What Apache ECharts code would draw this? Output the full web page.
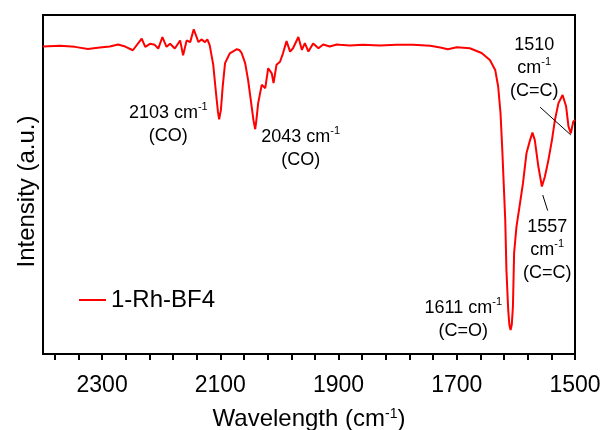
<!DOCTYPE html>
<html>
<head>
<meta charset="utf-8">
<script src="https://cdn.jsdelivr.net/npm/echarts@6/dist/echarts.min.js"></script>
<style>
html,body{margin:0;padding:0;background:#fff;}
#chart{width:606px;height:430px;}
</style>
</head>
<body>
<div id="chart"></div>
<script>
// Wavenumber (cm-1) and intensity (a.u.)
const wavenumber = [2400, 2371, 2346, 2324, 2304, 2287, 2273, 2261, 2248, 2233, 2227, 2219, 2211, 2205, 2198, 2191, 2185, 2177, 2168, 2163, 2157, 2151, 2145, 2137, 2132, 2126, 2122, 2118, 2112, 2107, 2104, 2102, 2099, 2096, 2092, 2087, 2084, 2079, 2072, 2068, 2064, 2058, 2053, 2047, 2044, 2041, 2039, 2036, 2030, 2024, 2019, 2013, 2010, 2005, 1999, 1994, 1988, 1982, 1977, 1968, 1962, 1957, 1951, 1943, 1934, 1926, 1915, 1903, 1898, 1881, 1859, 1830, 1802, 1774, 1745, 1728, 1715, 1700, 1678, 1658, 1644, 1635, 1630, 1626, 1623, 1618, 1616, 1613, 1611, 1609, 1607, 1605, 1603, 1599, 1593, 1588, 1582, 1576, 1572, 1568, 1562, 1556, 1551, 1545, 1539, 1534, 1528, 1521, 1515, 1511, 1507, 1503, 1500];
const intensity = [90.7, 90.9, 90.6, 90.0, 90.4, 90.7, 91.3, 90.7, 89.6, 93.0, 90.6, 91.5, 91.2, 90.1, 93.5, 90.6, 91.5, 90.1, 92.5, 88.1, 92.5, 92.0, 95.8, 92.0, 92.8, 92.0, 92.8, 91.1, 85.3, 76.4, 71.4, 69.2, 72.0, 78.9, 85.8, 87.6, 88.7, 89.2, 89.9, 89.7, 88.8, 85.8, 80.8, 73.0, 69.0, 66.3, 69.0, 74.0, 79.4, 78.4, 84.3, 82.8, 79.9, 85.3, 86.2, 88.7, 92.3, 89.2, 90.2, 93.5, 89.7, 91.7, 89.2, 91.6, 90.2, 91.3, 90.7, 91.3, 91.2, 91.0, 91.2, 91.0, 91.2, 91.2, 90.9, 90.4, 89.9, 90.5, 90.2, 88.8, 86.7, 83.8, 78.9, 71.1, 60.2, 39.5, 24.8, 13.0, 8.6, 7.1, 8.6, 14.0, 29.8, 37.6, 44.5, 50.4, 59.3, 63.1, 65.3, 63.1, 55.3, 49.4, 52.3, 57.2, 63.1, 69.0, 74.0, 76.4, 73.0, 67.1, 65.1, 68.5, 69.0];

const seriesName = '1-Rh-BF4';
const xTickLabels = [1500, 1700, 1900, 2100, 2300];
const xTicks = [1500, 1540, 1580, 1620, 1660, 1700, 1740, 1780, 1820, 1860, 1900, 1940, 1980, 2020, 2060, 2100, 2140, 2180, 2220, 2260, 2300, 2340, 2380];

// Peak annotations: text anchor in data coordinates
const annotationText = ['2103 cm{sup|-1}\n(CO)', '2043 cm{sup|-1}\n(CO)', '1510\ncm{sup|-1}\n(C=C)', '1557\ncm{sup|-1}\n(C=C)', '1611 cm{sup|-1}\n(C=O)'];
const annotationX = [2188, 1964, 1569, 1547, 1689];
const annotationY = [67.6, 60.6, 84.4, 30.6, 10.3];
// Leader lines [x1, y1, x2, y2] in data coordinates
const leaderLines = [[1559, 72.8, 1507, 64.6], [1554.6, 46.9, 1546.2, 42.3]];

const FONT = '"Liberation Sans", Arial, sans-serif';
const supStyle = {fontSize: 11, fontFamily: FONT, color: '#000', verticalAlign: 'top', lineHeight: 12};

const chart = echarts.init(document.getElementById('chart'), null, {renderer: 'canvas'});
chart.setOption({
  animation: false,
  backgroundColor: '#fff',
  grid: {left: 43, right: 31, top: 15, bottom: 76, containLabel: false, outerBoundsMode: 'none', show: true, borderColor: '#000', borderWidth: 2, backgroundColor: 'transparent'},
  legend: {
    left: 79, top: 288, padding: 0,
    icon: 'rect', itemWidth: 27, itemHeight: 2,
    textStyle: {fontSize: 24, fontFamily: FONT, color: '#000'},
    data: [seriesName]
  },
  xAxis: {
    type: 'value', inverse: true, min: 1500, max: 2400,
    name: 'Wavelength (cm{sup|-1})', nameLocation: 'middle', nameGap: 53,
    nameTextStyle: {fontSize: 24, fontFamily: FONT, color: '#000', rich: {sup: {fontSize: 14, fontFamily: FONT, color: '#000', verticalAlign: 'top', lineHeight: 14}}},
    axisLine: {show: true, lineStyle: {color: '#000', width: 2}},
    axisTick: {show: true, inside: false, length: 6, lineStyle: {color: '#000', width: 2}, customValues: xTicks},
    axisLabel: {show: true, fontSize: 23, fontFamily: FONT, color: '#000', margin: 20, customValues: xTickLabels, formatter: v => String(v)},
    splitLine: {show: false}
  },
  yAxis: {
    type: 'value', min: 0, max: 100,
    name: 'Intensity (a.u.)', nameLocation: 'middle', nameGap: 4, nameRotate: 90,
    nameTextStyle: {fontSize: 24, fontFamily: FONT, color: '#000', padding: [0, 14, 0, 0]},
    axisLine: {show: true, lineStyle: {color: '#000', width: 2}},
    axisTick: {show: false}, axisLabel: {show: false}, splitLine: {show: false}
  },
  series: [{
    name: seriesName, type: 'line', symbol: 'none', smooth: false,
    lineStyle: {color: '#ff0000', width: 2}, itemStyle: {color: '#ff0000'},
    data: wavenumber.map((w, i) => [w, intensity[i]]),
    markLine: {
      silent: true, symbol: ['none', 'none'], label: {show: false},
      lineStyle: {color: '#000', width: 1, type: 'solid'},
      data: leaderLines.map(l => [{coord: [l[0], l[1]]}, {coord: [l[2], l[3]]}])
    },
    markPoint: {
      silent: true, symbol: 'circle', symbolSize: 1,
      itemStyle: {color: 'rgba(0,0,0,0)'},
      label: {show: true, position: 'inside', color: '#000', fontSize: 18, fontFamily: FONT, lineHeight: 23, align: 'center', rich: {sup: supStyle}},
      data: annotationText.map((t, i) => ({coord: [annotationX[i], annotationY[i]], label: {formatter: t}}))
    }
  }]
});
</script>
</body>
</html>
